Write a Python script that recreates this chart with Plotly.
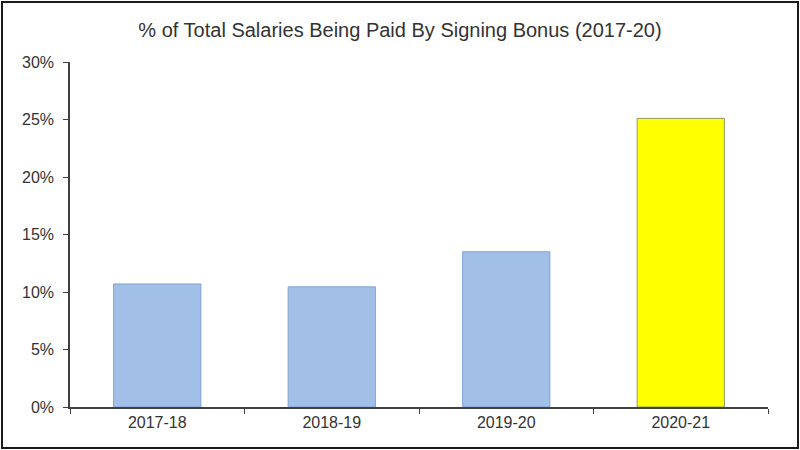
import plotly.graph_objects as go

seasons = ["2017-18", "2018-19", "2019-20", "2020-21"]
bonus_pct = [10.7, 10.45, 13.5, 25.1]
bar_colors = ["#a2c0e7", "#a2c0e7", "#a2c0e7", "#ffff00"]
edge_colors = ["#7fa3d3", "#7fa3d3", "#7fa3d3", "#8c9a6a"]
y_ticks = [0, 5, 10, 15, 20, 25, 30]
y_tick_text = [f"{v}%" for v in y_ticks]

W, H = 800, 450
L, R, T, B = 70, 32, 62, 43
pw, ph = W - L - R, H - T - B

fig = go.Figure(go.Bar(
    x=seasons, y=bonus_pct,
    marker=dict(color=bar_colors, line=dict(color=edge_colors, width=1)),
    width=0.5,
))

fig.update_layout(
    width=W, height=H,
    margin=dict(l=L, r=R, t=T, b=B),
    paper_bgcolor="white", plot_bgcolor="white",
    font=dict(family="Liberation Sans, Arial", color="#333333", size=16),
    title=dict(text="% of Total Salaries Being Paid By Signing Bonus (2017-20)",
               x=0.5, xanchor="center", y=1 - 30 / H, yanchor="middle",
               font=dict(size=20, color="#333333")),
    showlegend=False,
    xaxis=dict(range=[-0.5, 3.5], showline=True, linecolor="#404040", linewidth=1.5,
               ticks="outside", tickson="boundaries", ticklen=5, tickcolor="#404040",
               showgrid=False, zeroline=False, tickfont=dict(size=16)),
    yaxis=dict(range=[0, 30], tickvals=y_ticks, ticktext=y_tick_text,
               showline=True, linecolor="#404040", linewidth=1.5,
               ticks="outside", ticklen=5, tickcolor="#404040", ticklabelstandoff=6,
               showgrid=False, zeroline=False, tickfont=dict(size=16)),
    shapes=[dict(type="rect", xref="paper", yref="paper",
                 x0=(2 - L) / pw, x1=(W - 2 - L) / pw,
                 y0=-(H - 2 - T - ph) / ph, y1=(ph + T - 2) / ph,
                 line=dict(color="#1a1a1a", width=2), layer="below")],
)

fig.write_html("out.html", config={"displayModeBar": False},
               post_script="document.body.style.margin='0px';document.body.style.overflow='hidden';")
